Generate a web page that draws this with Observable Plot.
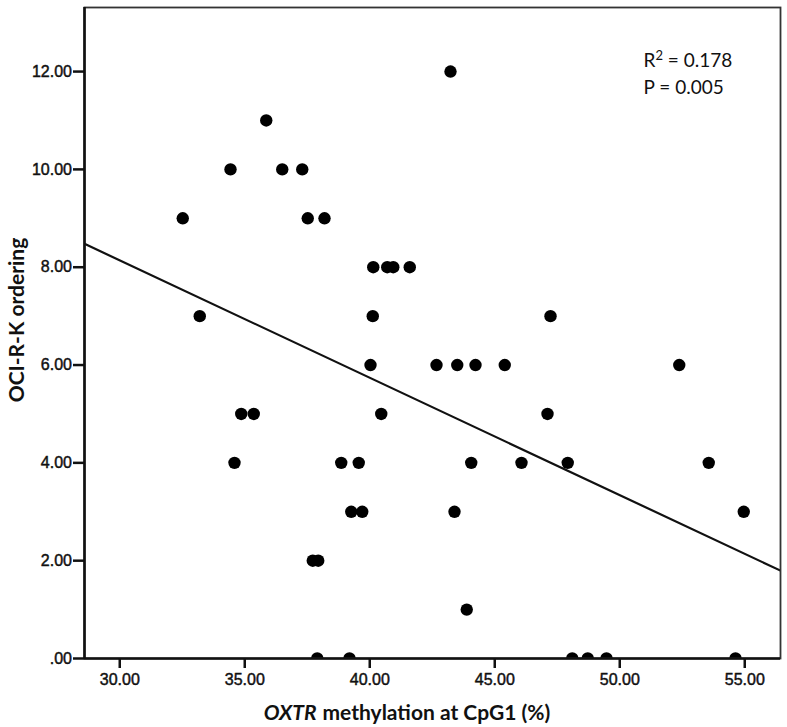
<!DOCTYPE html>
<html>
<head>
<meta charset="utf-8">
<script src="https://cdn.jsdelivr.net/npm/d3@7"></script>
<script src="https://cdn.jsdelivr.net/npm/@observablehq/plot@0.6"></script>
<style>
  html, body { margin: 0; padding: 0; background: #fff; }
  [aria-label$="tick label"] text { stroke: #111; stroke-width: 0.45px; }
</style>
</head>
<body>
<div id="chart"></div>
<script>
// ---- data ----
// OXTR methylation at CpG1 (%) for each participant
const methylation = [
  43.23,
  35.86,
  34.43, 36.50, 37.30,
  32.52, 37.52, 38.19,
  40.14, 40.70, 40.94, 41.60,
  33.20, 40.12, 47.23,
  40.03, 42.67, 43.50, 44.23, 45.40, 52.38,
  34.86, 35.36, 40.46, 47.11,
  34.59, 38.86, 39.56, 44.06, 46.07, 47.92, 53.56,
  39.26, 39.70, 43.39, 54.96,
  37.72, 37.94,
  43.88,
  37.90, 39.19, 48.10, 48.72, 49.47, 54.63
];
// OCI-R-K ordering score for each participant (same order)
const ordering = [
  12,
  11,
  10, 10, 10,
  9, 9, 9,
  8, 8, 8, 8,
  7, 7, 7,
  6, 6, 6, 6, 6, 6,
  5, 5, 5, 5,
  4, 4, 4, 4, 4, 4, 4,
  3, 3, 3, 3,
  2, 2,
  1,
  0, 0, 0, 0, 0, 0
];
// fitted regression line
const fitIntercept = 15.34;
const fitSlope = -0.240;

const xTicks = [30, 35, 40, 45, 50, 55];
const xTickLabels = ["30.00", "35.00", "40.00", "45.00", "50.00", "55.00"];
const yTicks = [0, 2, 4, 6, 8, 10, 12];
const yTickLabels = [".00", "2.00", "4.00", "6.00", "8.00", "10.00", "12.00"];
const xDomain = [28.59, 56.43];
const yDomain = [0, 13.31];
const statLines = ["R\u00B2 = 0.178", "P = 0.005"];
const xLabelItalic = "OXTR";
const xLabelRest = "methylation at CpG1 (%)";
const yLabel = "OCI-R-K ordering";

// ---- build ----
const points = methylation.map((m, i) => ({x: m, y: ordering[i]}));
const fitPts = xDomain.map(x => ({x, y: fitIntercept + fitSlope * x}));

const labelFont = "Lato, 'Open Sans', sans-serif";

const chart = Plot.plot({
  width: 787,
  height: 727,
  marginLeft: 84,
  marginRight: 7,
  marginTop: 7,
  marginBottom: 69,
  style: {fontFamily: "'Liberation Sans', Arial, sans-serif", fontSize: "16px", background: "#fff", color: "#111"},
  x: {domain: xDomain},
  y: {domain: yDomain},
  marks: [
    Plot.line(fitPts, {x: "x", y: "y", stroke: "#111", strokeWidth: 2.2, clip: true}),
    Plot.dot(points, {x: "x", y: "y", r: 6.2, fill: "#000", stroke: "none", clip: true}),
    Plot.frame({stroke: "#333", strokeWidth: 1.8}),
    Plot.ruleX([xDomain[0]], {stroke: "#111", strokeWidth: 2.6}),
    Plot.ruleY([yDomain[0]], {stroke: "#111", strokeWidth: 2.6}),
    Plot.axisX({
      ticks: xTicks,
      tickFormat: d => xTickLabels[xTicks.indexOf(d)],
      tickSize: 10, tickPadding: 5, strokeWidth: 2.5,
      fontSize: 16, label: null
    }),
    Plot.axisY({
      ticks: yTicks,
      tickFormat: d => yTickLabels[yTicks.indexOf(d)],
      tickSize: 11, tickPadding: 1.5, strokeWidth: 2.5,
      fontSize: 16, label: null
    }),
    Plot.text([statLines.join("\n")], {
      frameAnchor: "top-left", textAnchor: "start", lineAnchor: "top",
      dx: 559, dy: 40, fontSize: 19, lineHeight: 1.42,
      fontFamily: labelFont, fill: "#111"
    }),
    Plot.text([xLabelItalic], {
      frameAnchor: "bottom", textAnchor: "end", lineAnchor: "middle",
      dx: -116, dy: 54.5, fontSize: 21, fontWeight: "bold", fontStyle: "italic",
      fontFamily: labelFont, fill: "#111"
    }),
    Plot.text([xLabelRest], {
      frameAnchor: "bottom", textAnchor: "start", lineAnchor: "middle",
      dx: -110, dy: 54.5, fontSize: 21, fontWeight: "bold",
      fontFamily: labelFont, fill: "#111"
    }),
    Plot.text([yLabel], {
      frameAnchor: "left", rotate: -90, textAnchor: "middle", lineAnchor: "middle",
      dx: -67, dy: -13, fontSize: 21, fontWeight: "bold",
      fontFamily: labelFont, fill: "#111"
    })
  ]
});

// render the squared sign as a real superscript "2"
d3.select(chart).selectAll("text, tspan").each(function () {
  if (this.childElementCount === 0 && this.textContent.includes("\u00B2")) {
    const parts = this.textContent.split("\u00B2");
    const sel = d3.select(this);
    this.textContent = parts[0];
    sel.append("tspan").attr("font-size", "13px").attr("dy", "-7px").text("2");
    sel.append("tspan").attr("dy", "7px").text(parts[1]);
  }
});

document.getElementById("chart").appendChild(chart);
</script>
</body>
</html>
